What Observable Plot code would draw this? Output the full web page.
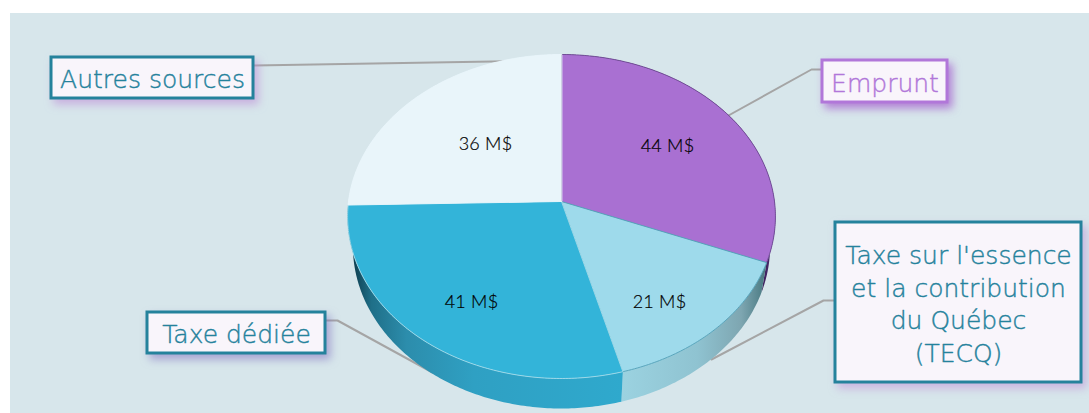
<!DOCTYPE html>
<html lang="fr">
<head>
<meta charset="utf-8">
<script src="https://cdn.jsdelivr.net/npm/d3@7"></script>
<script src="https://cdn.jsdelivr.net/npm/@observablehq/plot@0.6"></script>
<style>
html,body{margin:0;padding:0;background:#fff;overflow:hidden}
svg{display:block}
.callout text{font-family:"DejaVu Sans",sans-serif;font-weight:200}
.amount text{font-family:Lato,sans-serif;font-weight:300;letter-spacing:.2px}
</style>
</head>
<body>
<div id="chart"></div>
<script>
// ---- chart values ----
const categories = ["Emprunt", "Taxe sur l'essence\net la contribution\ndu Québec\n(TECQ)", "Taxe dédiée", "Autres sources"];
const values = [44, 21, 41, 36];
const valueLabels = ["44 M$", "21 M$", "41 M$", "36 M$"];

// ---- styles ----
const topColors = ["#a970d2", "#9edaeb", "#33b4d9", "#e9f5fa"];
const edgeColors = ["#6d4a93", "#4f9fb8", "#a4dbea", "#e9f5fa"];
const accent = ["#b177d9", "#25829c", "#25829c", "#25829c"];
const shadows = ["rgba(165,95,205,.75)", "rgba(190,140,215,.55)", "rgba(125,110,190,.55)", "rgba(190,140,215,.6)"];
const wallStops = [
  [[0, "#2c1240"], [1, "#4a2a70"]],
  [[0, "#9bd2e0"], [.5, "#8fc3d1"], [.8, "#7ea6b1"], [1, "#3e7078"]],
  [[0, "#0e3d4e"], [.07, "#1f6f88"], [.2, "#2c8dac"], [.45, "#2fa0c3"], [1, "#2fa9cd"]],
  [[0, "#e9f5fa"], [1, "#e9f5fa"]]
];
const wallRange = [[740, 775], [623, 770], [352, 622], [348, 561]];

// ---- layout (page coordinates) ----
const apex = [561, 201], k = 213, c = 0.0926, a = -142;
const wallDrop = 30, wallShrink = 0.975;
const boxes = [[822, 60, 947, 102], [835, 222, 1081, 382], [147, 312, 325, 353], [51, 57, 253, 98]];
const labelAt = [[667, 146], [659, 302], [471, 302], [485, 144]];
const leaders = [
  [[822, 69], [811, 69], [728, 115]],
  [[835, 300], [823, 300], [711, 359]],
  [[325, 320], [337, 320], [432, 372]],
  [[253, 65], [507, 60.7]]
];

// ---- pie geometry from the values ----
const total = d3.sum(values);
const cum = d3.cumsum(values);
const angle0 = i => (i ? cum[i - 1] : 0) / total * 2 * Math.PI;
const angle1 = i => cum[i] / total * 2 * Math.PI;
function project(t) {
  const u = Math.sin(t), v = Math.cos(t), w = 1 + c * v;
  return {x: apex[0] + k * u / w, y: (a * v + apex[1]) / w};
}
const lower = p => ({x: apex[0] + (p.x - apex[0]) * wallShrink, y: p.y + wallDrop});
function arc(i) {
  const n = Math.ceil((angle1(i) - angle0(i)) / (Math.PI / 240));
  return d3.range(n + 1).map(j => project(angle0(i) + (angle1(i) - angle0(i)) * j / n));
}
const tops = values.map((_, i) => [{x: apex[0], y: apex[1]}, ...arc(i)]);
const walls = values.map((_, i) => [...arc(i), ...arc(i).reverse().map(lower)]);

const W = 1089, H = 413;
const svg = Plot.plot({
  width: W, height: H,
  margin: 0,
  x: {domain: [0, W], range: [0, W], axis: null},
  y: {domain: [0, H], range: [0, H], axis: null},
  style: {background: "#fff", fontFamily: "Lato, 'Open Sans', sans-serif"},
  marks: [
    Plot.rect([0], {x1: () => 10, x2: () => W, y1: () => 13, y2: () => H, fill: "#d7e6eb"}),
    // leader lines sit under the pie
    ...leaders.map(l => Plot.line(l, {x: d => d[0], y: d => d[1], stroke: "#a5a5a5", strokeWidth: 2, curve: "linear"})),
    // side wall
    ...walls.map((w, i) => Plot.line(w, {x: "x", y: "y", fill: `url(#wall${i})`, stroke: "none", curve: "linear-closed"})),
    // top face
    ...tops.map((t, i) => Plot.line(t, {x: "x", y: "y", fill: topColors[i], stroke: edgeColors[i], strokeWidth: 0.9, curve: "linear-closed"})),
    // slice values
    Plot.text(valueLabels, {
      x: (_, i) => labelAt[i][0], y: (_, i) => labelAt[i][1],
      text: d => d, fontSize: 18, fill: "#000", stroke: "#000", strokeWidth: 0.2, className: "amount"
    }),
    // callouts
    ...boxes.map((b, i) => Plot.rect([b], {
      x1: d => d[0], y1: d => d[1], x2: d => d[2], y2: d => d[3],
      fill: "#f9f5fb", stroke: accent[i], strokeWidth: 3,
      imageFilter: `drop-shadow(4px 5px 4px ${shadows[i]})`
    })),
    ...categories.map((t, i) => Plot.text([t], {
      x: () => (boxes[i][0] + boxes[i][2]) / 2,
      y: () => (boxes[i][1] + boxes[i][3]) / 2,
      text: d => d, fontSize: 25, lineHeight: 1.31,
      fill: i === 0 ? "#b177d9" : "#25829c",
      stroke: i === 0 ? "#b177d9" : "#25829c", strokeWidth: 0.4,
      className: "callout"
    }))
  ]
});

// wall gradients used by the wall marks
const defs = d3.select(svg).insert("defs", ":first-child");
wallStops.forEach((stops, i) => {
  const g = defs.append("linearGradient").attr("id", `wall${i}`)
    .attr("gradientUnits", "userSpaceOnUse")
    .attr("x1", wallRange[i][0]).attr("x2", wallRange[i][1]).attr("y1", 0).attr("y2", 0);
  stops.forEach(([o, col]) => g.append("stop").attr("offset", o).attr("stop-color", col));
});
document.getElementById("chart").append(svg);
</script>
</body>
</html>
